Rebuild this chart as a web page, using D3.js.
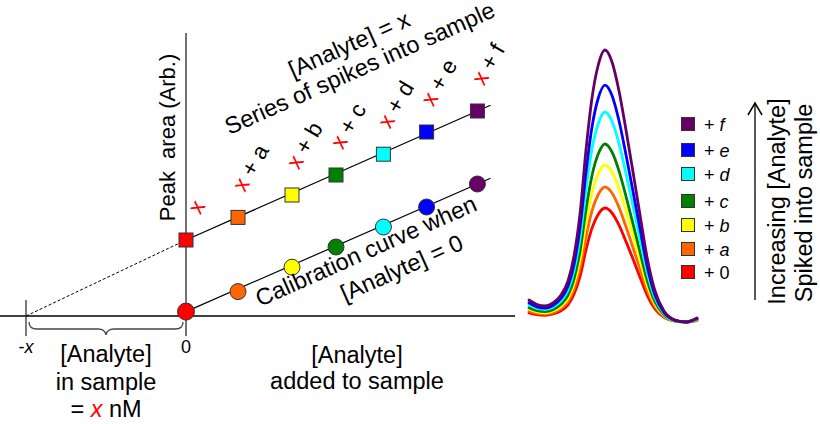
<!DOCTYPE html>
<html><head><meta charset="utf-8">
<script src="https://cdn.jsdelivr.net/npm/d3@7"></script>
<style>body{margin:0;background:#fff;} svg{display:block;font-family:"Liberation Sans",Arial,sans-serif;}</style>
</head><body><svg id="c" width="820" height="424"></svg>
<script>
// ---------- data ----------
const categories = ["0","a","b","c","d","e","f"];
const colors = ["#ff0000","#ff6600","#ffff00","#008000","#00ffff","#0000ff","#660066"];
const added = [0, 2.6, 5.3, 7.5, 9.87, 12.03, 14.57];          // [Analyte] added
const calibArea = [0.22, 1.22, 2.44, 3.45, 4.45, 5.45, 6.6];    // circles, [Analyte]=0
const spikedArea = [3.8, 4.93, 6.05, 7.05, 8.09, 9.2, 10.25];   // squares, [Analyte]=x
const sampleConc = -8;                                          // -x intercept
const tickLabels = ["-x", "0"];
const peakTime = [0,8,16,24,32,39,45,51,57,63,69,76,83,90,97,104,111,118,126,135,146,157,168];
const peak0 = [9.2,7.3,6.7,8,11.3,17.2,27.7,45.3,72.1,93.9,107.3,114,109,96.8,80.4,62.9,44.8,27.2,13,4.6,0.8,0,1.7];
const peakA = [10.9,8.7,7.9,9.4,13.4,20.3,32.7,53.6,85.3,111.1,127,135,129,114.6,95.2,74.4,53.1,32.2,15.4,5.5,1,0,2];
const peakB = [12.7,10.1,9.2,11,15.6,23.7,38.1,62.3,99.2,129.2,147.7,157,150,133.3,110.8,86.6,61.7,37.5,17.9,6.3,1.2,0,2.3];
const peakC = [14.4,11.4,10.5,12.4,17.7,26.8,43.2,70.6,112.5,146.5,167.4,178,170,151.1,125.6,98.1,70,42.5,20.3,7.2,1.3,0,2.6];
const peakD = [17,13.5,12.4,14.7,20.8,31.7,51,83.4,132.8,172.9,197.6,210,200.7,178.3,148.2,115.8,82.6,50.2,23.9,8.5,1.5,0,3.1];
const peakE = [19.2,15.2,13.9,16.5,23.5,35.7,57.5,94.1,149.8,195.1,223,236.9,226.5,201.2,167.2,130.7,93.2,56.6,27,9.6,1.7,0,3.5];
const peakF = [22,17.5,16,19,27,41,66,108,172,224,256,272,260,231,192,150,107,65,31,11,2,0,4];
const peaks = [peak0, peakA, peakB, peakC, peakD, peakE, peakF];

// ---------- scales ----------
const svg = d3.select("#c");
const x = d3.scaleLinear().domain([-9.3, 16.45]).range([0, 515]);
const y = d3.scaleLinear().domain([0, 14.15]).range([316, 33]);
const px = d3.scaleLinear().domain([0, 168]).range([529, 697]);
const py = d3.scaleLinear().domain([0, 272]).range([322, 50]);
const FS = 23.5;

// ---------- axes ----------
svg.append("line").attr("x1", x.range()[0]).attr("x2", x.range()[1])
  .attr("y1", y(0)).attr("y2", y(0)).attr("stroke", "#000").attr("stroke-width", 1.3);
svg.append("line").attr("x1", x(0)).attr("x2", x(0))
  .attr("y1", y.range()[1]).attr("y2", y(0) + 20).attr("stroke", "#444").attr("stroke-width", 1.5);
svg.append("line").attr("x1", x(sampleConc)).attr("x2", x(sampleConc))
  .attr("y1", y(0) - 16).attr("y2", y(0) + 20).attr("stroke", "#333").attr("stroke-width", 1.3);

// brace under the negative axis
const bx0 = x(sampleConc) + 3, bx1 = x(0) - 3, bm = (bx0 + bx1) / 2, by = y(0) + 13;
svg.append("path")
  .attr("d", `M${bx0},${by-7} Q${bx0},${by} ${bx0+8},${by} L${bm-8},${by} Q${bm-1},${by} ${bm},${by+6} Q${bm+1},${by} ${bm+8},${by} L${bx1-8},${by} Q${bx1},${by} ${bx1},${by-7}`)
  .attr("fill", "none").attr("stroke", "#444").attr("stroke-width", 1.3);

// tick labels
const tl = svg.append("g").attr("font-size", 18).attr("text-anchor", "middle");
tl.append("text").attr("x", x(sampleConc)).attr("y", 353)
  .html(`-<tspan font-style="italic">${tickLabels[0].slice(1)}</tspan>`);
tl.append("text").attr("x", x(0)).attr("y", 353).text(tickLabels[1]);

// dashed extrapolation
svg.append("line").attr("x1", x(sampleConc)).attr("y1", y(0))
  .attr("x2", x(added[0])).attr("y2", y(spikedArea[0]))
  .attr("stroke", "#000").attr("stroke-width", 1).attr("stroke-dasharray", "3,2");

// fit lines (extended slightly beyond last point)
function fitLine(vals) {
  const n = vals.length - 1, k = 1.045;
  const x2 = added[0] + (added[n] - added[0]) * k;
  const y2 = vals[0] + (vals[n] - vals[0]) * k;
  svg.append("line").attr("x1", x(added[0])).attr("y1", y(vals[0]))
    .attr("x2", x(x2)).attr("y2", y(y2)).attr("stroke", "#000").attr("stroke-width", 1.2);
}
fitLine(spikedArea);
fitLine(calibArea);

// circles
svg.append("g").selectAll("circle").data(categories).join("circle")
  .attr("cx", (d, i) => x(added[i])).attr("cy", (d, i) => y(calibArea[i]))
  .attr("r", (d, i) => i === 0 ? 8.5 : 8).attr("fill", (d, i) => colors[i])
  .attr("stroke", "#333").attr("stroke-width", 1);
// squares
const S = 14;
svg.append("g").selectAll("rect").data(categories).join("rect")
  .attr("x", (d, i) => x(added[i]) - S / 2).attr("y", (d, i) => y(spikedArea[i]) - S / 2)
  .attr("width", S).attr("height", S).attr("fill", (d, i) => colors[i])
  .attr("stroke", "#333").attr("stroke-width", 1);

// spike labels "x + a" ...
const LF = 22.5;
categories.forEach((c, i) => {
  const cx = x(added[i]) + (i === 0 ? 12 : 4.5), cy = y(spikedArea[i]) - 32;
  const ax = cx + 2.2, ay = cy + 7.6;
  const t = svg.append("text").attr("font-size", LF)
    .attr("transform", `translate(${ax},${ay}) rotate(-60)`);
  t.append("tspan").attr("fill", "#ff0000").text("x");
  if (i > 0) t.append("tspan").attr("fill", "#000").text(" + " + c);
});

// rotated annotation texts
const g1 = svg.append("g").attr("transform", "translate(363,75.5) rotate(-24)")
  .attr("font-size", FS).attr("text-anchor", "middle");
g1.append("text").attr("y", -26).text("[Analyte] = x");
g1.append("text").attr("y", 0).text("Series of spikes into sample");

svg.append("text").attr("font-size", FS).attr("transform", "translate(260,307) rotate(-24)")
  .text("Calibration curve when");
svg.append("text").attr("font-size", FS).attr("transform", "translate(345,302) rotate(-24)")
  .text("[Analyte] = 0");

// y axis title
svg.append("text").attr("font-size", 22).attr("text-anchor", "middle")
  .style("white-space", "pre")
  .attr("transform", `translate(175,${(y.range()[1] + y(spikedArea[0])) / 2 + 1}) rotate(-90)`)
  .text("Peak  area (Arb.)");

// bottom labels
const b1 = svg.append("g").attr("font-size", FS).attr("text-anchor", "middle");
b1.append("text").attr("x", (x(sampleConc) + x(0)) / 2).attr("y", 362).text("[Analyte]");
b1.append("text").attr("x", (x(sampleConc) + x(0)) / 2).attr("y", 390).text("in sample");
b1.append("text").attr("x", (x(sampleConc) + x(0)) / 2).attr("y", 417)
  .html(`= <tspan fill="#ff0000" font-style="italic">x</tspan> nM`);
b1.append("text").attr("x", 357).attr("y", 363).text("[Analyte]");
b1.append("text").attr("x", 357).attr("y", 389).text("added to sample");

// ---------- peaks ----------
const lineGen = d3.line().x((d, i) => px(peakTime[i])).y(d => py(d)).curve(d3.curveMonotoneX);
svg.append("g").selectAll("path").data(peaks).join("path")
  .attr("d", d => lineGen(d)).attr("fill", "none")
  .attr("stroke", (d, i) => colors[i]).attr("stroke-width", 2.8).attr("stroke-linecap", "round");

// legend
const legY = [272, 249, 225, 201, 174, 150, 124];
const lg = svg.append("g");
categories.forEach((c, i) => {
  lg.append("rect").attr("x", 688 - 6.5).attr("y", legY[i] - 6.5).attr("width", 13).attr("height", 13)
    .attr("fill", colors[i]).attr("stroke", "#333").attr("stroke-width", 1);
  const t = lg.append("text").attr("x", 704).attr("y", legY[i] + 6.5).attr("font-size", 18);
  t.append("tspan").text("+ ");
  t.append("tspan").attr("font-style", i === 0 ? "normal" : "italic").text(c);
});

// arrow
svg.append("line").attr("x1", 755).attr("x2", 755).attr("y1", 300).attr("y2", 103)
  .attr("stroke", "#000").attr("stroke-width", 1.3);
svg.append("path").attr("d", "M748,115 L755,103 L762,115").attr("fill", "none")
  .attr("stroke", "#000").attr("stroke-width", 1.5);
svg.append("text").attr("font-size", FS).attr("text-anchor", "middle")
  .attr("transform", "translate(785,201.5) rotate(-90)").text("Increasing [Analyte]");
svg.append("text").attr("font-size", FS).attr("text-anchor", "middle")
  .attr("transform", "translate(812,203) rotate(-90)").text("Spiked into sample");
</script></body></html>
